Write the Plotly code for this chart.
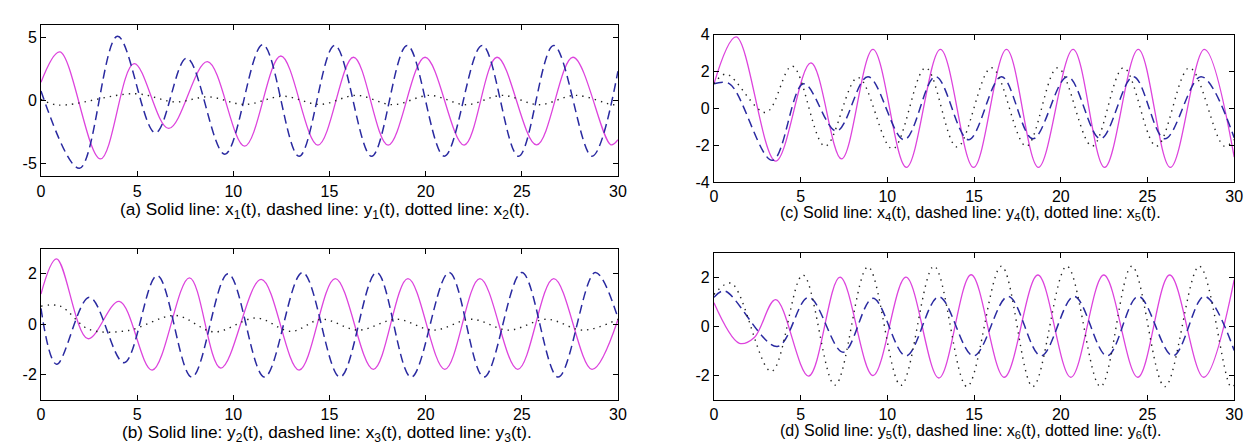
import plotly.graph_objects as go

# ---------------- data ----------------
# Panel (a)
a_t_x1 = [0, 0.98, 3.09, 4.84, 6.64, 8.65, 10.59, 12.47, 14.4, 16.25, 18.05, 19.97, 22.0, 23.71, 25.77, 27.66, 29.63, 30]
a_x1 = [1.45, 3.87, -4.62, 2.93, -2.2, 3.1, -3.6, 3.54, -3.52, 3.44, -3.52, 3.44, -3.52, 3.44, -3.5, 3.44, -3.5, -3.1]
a_t_y1 = [0, 2.0, 3.98, 5.95, 7.58, 9.56, 11.53, 13.42, 15.27, 17.19, 19.04, 20.97, 22.94, 24.83, 26.66, 28.65, 30]
a_y1 = [0.77, -5.36, 5.1, -2.55, 3.37, -4.24, 4.44, -4.41, 4.38, -4.41, 4.38, -4.4, 4.38, -4.4, 4.38, -4.4, 2.34]
a_t_x2 = [0, 0.9, 4.9, 7.0, 8.7, 10.6, 12.6, 14.5, 16.4, 18.3, 20.2, 22.1, 24.0, 25.9, 27.8, 29.7, 30]
a_x2 = [0.1, -0.35, 0.55, -0.1, 0.3, -0.3, 0.35, -0.3, 0.42, -0.32, 0.42, -0.32, 0.42, -0.32, 0.42, -0.32, -0.3]

# Panel (b)
b_t_y2 = [0, 0.81, 2.44, 4.07, 5.78, 7.72, 9.35, 11.45, 13.42, 15.3, 17.28, 19.08, 21.0, 22.82, 24.79, 26.66, 28.65, 30]
b_y2 = [1.2, 2.59, -0.57, 0.91, -1.81, 1.84, -1.73, 1.78, -1.81, 1.81, -1.78, 1.81, -1.78, 1.81, -1.78, 1.81, -1.78, 0.19]
b_t_x3 = [0, 0.81, 2.52, 4.32, 6.04, 7.84, 9.73, 11.62, 13.6, 15.55, 17.45, 19.25, 21.22, 23.03, 25.0, 26.89, 28.82, 30]
b_x3 = [0.63, -1.58, 1.07, -1.52, 1.93, -2.09, 2.0, -2.09, 2.05, -2.09, 2.05, -2.09, 2.05, -2.09, 2.05, -2.09, 2.05, 0.25]
b_t_y3 = [0, 1.0, 2.5, 4.5, 7.0, 9.0, 11.2, 13.0, 14.6, 16.5, 18.5, 20.4, 22.4, 24.3, 26.3, 28.2, 30]
b_y3 = [0.72, 0.72, -0.2, -0.25, 0.35, -0.3, 0.25, -0.28, 0.2, -0.23, 0.2, -0.23, 0.2, -0.23, 0.2, -0.23, 0.2]

# Panel (c)
c_t_x4 = [0, 1.28, 3.56, 5.59, 7.36, 9.17, 11.1, 13.06, 14.97, 16.87, 18.71, 20.71, 22.53, 24.47, 26.32, 28.28, 30]
c_x4 = [1.33, 3.87, -2.86, 2.47, -2.74, 3.2, -3.2, 3.2, -3.2, 3.2, -3.2, 3.2, -3.2, 3.2, -3.2, 3.2, -2.65]
c_t_y4 = [0, 0.9, 3.37, 5.17, 7.07, 8.88, 10.97, 12.78, 14.68, 16.58, 18.39, 20.39, 22.29, 24.19, 26.0, 28.09, 30]
c_y4 = [1.33, 1.33, -2.82, 1.33, -1.23, 1.72, -1.7, 1.72, -1.7, 1.72, -1.65, 1.72, -1.65, 1.72, -1.65, 1.72, -1.6]
c_t_x5 = [0, 0.71, 2.99, 4.51, 6.41, 8.31, 10.3, 12.21, 14.02, 16.01, 18.01, 19.82, 21.81, 23.62, 25.52, 27.42, 29.42, 30]
c_x5 = [1.33, 1.86, -0.22, 2.29, -2.05, 1.67, -2.2, 2.2, -2.1, 2.2, -2.05, 2.2, -2.05, 2.2, -2.05, 2.2, -2.05, -1.7]

# Panel (d)
d_t_y5 = [0, 1.47, 2.33, 3.56, 5.46, 7.27, 9.17, 11.07, 12.97, 14.83, 16.74, 18.68, 20.58, 22.48, 24.44, 26.28, 28.24, 30]
d_y5 = [0.96, -0.69, -0.45, 1.09, -2.02, 2.0, -2.0, 2.0, -2.1, 2.1, -2.07, 2.09, -2.07, 2.09, -2.07, 2.09, -2.07, 1.9]
d_t_x6 = [0, 0.61, 3.65, 5.46, 7.45, 9.17, 11.07, 12.97, 14.97, 16.97, 18.86, 20.77, 22.67, 24.47, 26.47, 28.28, 30]
d_x6 = [1.18, 1.44, -0.82, 1.18, -1.05, 1.14, -1.2, 1.2, -1.2, 1.22, -1.2, 1.22, -1.2, 1.22, -1.2, 1.22, -0.98]
d_t_y6 = [0, 0.99, 3.31, 5.13, 6.98, 8.88, 10.78, 12.69, 14.59, 16.58, 18.39, 20.35, 22.29, 24.1, 26.0, 27.99, 29.8, 30]
d_y6 = [1.3, 1.76, -1.83, 2.09, -2.39, 2.42, -2.4, 2.45, -2.45, 2.45, -2.45, 2.45, -2.45, 2.45, -2.45, 2.45, -2.45, -2.4]

x_ticks = [0, 5, 10, 15, 20, 25, 30]
a_yticks = [-5, 0, 5]
b_yticks = [-2, 0, 2]
c_yticks = [-4, -2, 0, 2, 4]
d_yticks = [-2, 0, 2]

captions = [
    "(a) Solid line: x<sub>1</sub>(t), dashed line: y<sub>1</sub>(t), dotted line: x<sub>2</sub>(t).",
    "(b) Solid line: y<sub>2</sub>(t), dashed line: x<sub>3</sub>(t), dotted line: y<sub>3</sub>(t).",
    "(c) Solid line: x<sub>4</sub>(t), dashed line: y<sub>4</sub>(t), dotted line: x<sub>5</sub>(t).",
    "(d) Solid line: y<sub>5</sub>(t), dashed line: x<sub>6</sub>(t), dotted line: y<sub>6</sub>(t).",
]

# ---------------- styling / layout ----------------
W, H = 1254, 447
FONT = "Liberation Sans, Arial, sans-serif"
MAG = "#dd44dd"
BLUE = "#2a2aa0"
DOT = "#222222"

# pixel boxes: (left, right, top, bottom)
boxes = {
    "a": (29.3, 612.3, 9.3, 166.7),
    "b": (29.3, 612.3, 241.7, 399.3),
    "c": (709.3, 1235.0, 19.3, 172.7),
    "d": (709.3, 1235.0, 246.0, 399.3),
}
ranges = {"a": [-6, 6], "b": [-3, 3], "c": [-4, 4], "d": [-3, 3]}
yticks = {"a": a_yticks, "b": b_yticks, "c": c_yticks, "d": d_yticks}
cap_pos = {"a": (316, 202), "b": (318, 434), "c": (969, 205), "d": (969, 432)}
cap_size = {"a": 17.2, "b": 17.2, "c": 16, "d": 16}

series = {
    "a": [(a_t_x1, a_x1), (a_t_y1, a_y1), (a_t_x2, a_x2)],
    "b": [(b_t_y2, b_y2), (b_t_x3, b_x3), (b_t_y3, b_y3)],
    "c": [(c_t_x4, c_x4), (c_t_y4, c_y4), (c_t_x5, c_x5)],
    "d": [(d_t_y5, d_y5), (d_t_x6, d_x6), (d_t_y6, d_y6)],
}
styles = [
    dict(color=MAG, width=1.3),
    dict(color=BLUE, width=1.5, dash="9px,5px"),
    dict(color=DOT, width=1.4, dash="1.4px,5px"),
]

fig = go.Figure()
layout = dict(
    width=W, height=H, margin=dict(l=0, r=0, t=0, b=0),
    paper_bgcolor="white", plot_bgcolor="white", showlegend=False,
    font=dict(family=FONT, size=16, color="black"),
)
annotations = []
for i, key in enumerate(["a", "b", "c", "d"]):
    n = "" if i == 0 else str(i + 1)
    l, r, t, b = boxes[key]
    for (tt, vv), st in zip(series[key], styles):
        fig.add_trace(go.Scatter(
            x=tt, y=vv, mode="lines", line=dict(shape="spline", smoothing=1.0, **st),
            xaxis="x" + n, yaxis="y" + n, hoverinfo="skip"))
    common = dict(showgrid=False, zeroline=False, showline=True, linecolor="black",
                  linewidth=1, mirror="ticks", ticks="inside", ticklen=5,
                  tickcolor="black", tickwidth=1,
                  tickfont=dict(family=FONT, size=16, color="black"))
    layout["xaxis" + n] = dict(domain=[l / W, r / W], range=[0, 30], anchor="y" + n,
                               tickvals=x_ticks, ticktext=[str(v) for v in x_ticks],
                               **common)
    yt = yticks[key]
    layout["yaxis" + n] = dict(domain=[1 - b / H, 1 - t / H], range=ranges[key],
                               anchor="x" + n, tickvals=yt,
                               ticktext=[str(v) for v in yt],
                               **common)
    cx, cy = cap_pos[key]
    annotations.append(dict(text=captions[i], x=cx / W, y=1 - cy / H, xref="paper",
                            yref="paper", xanchor="center", yanchor="middle",
                            showarrow=False,
                            font=dict(family=FONT, size=cap_size[key], color="black")))
layout["annotations"] = annotations
fig.update_layout(**layout)
fig.write_html("out.html")
